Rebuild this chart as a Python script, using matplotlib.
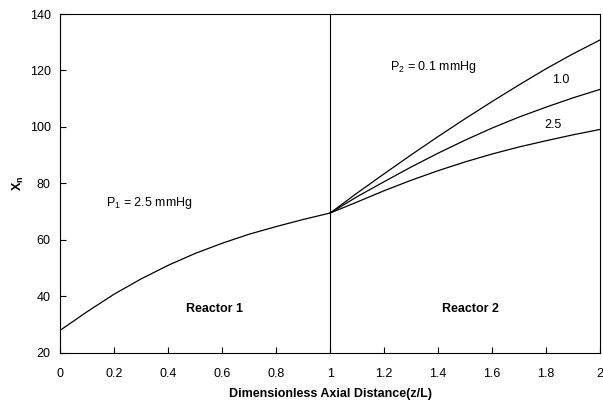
import matplotlib
matplotlib.use('Agg')
import matplotlib.pyplot as plt

plt.rcParams['font.family'] = ['Liberation Sans', 'DejaVu Sans']

# Reactor 1 (P1 = 2.5 mmHg)
z1 = [0.0, 0.1, 0.2, 0.3, 0.4, 0.5, 0.6, 0.7, 0.8, 0.9, 1.0]
x1 = [28, 34.6, 40.8, 46.2, 51.0, 55.2, 58.8, 62.0, 64.7, 67.2, 69.5]

# Reactor 2, three P2 values
z2 = [1.0, 1.1, 1.2, 1.3, 1.4, 1.5, 1.6, 1.7, 1.8, 1.9, 2.0]
x2_01 = [69.5, 76.6, 83.4, 90.1, 96.6, 102.9, 109.0, 114.9, 120.6, 125.9, 130.8]
x2_10 = [69.5, 75.3, 80.6, 85.8, 90.7, 95.3, 99.6, 103.5, 107.0, 110.3, 113.3]
x2_25 = [69.5, 73.4, 77.4, 81.1, 84.5, 87.6, 90.4, 92.9, 95.1, 97.2, 99.1]

xticks = [0, 0.2, 0.4, 0.6, 0.8, 1, 1.2, 1.4, 1.6, 1.8, 2]
xticklabels = ['0', '0.2', '0.4', '0.6', '0.8', '1', '1.2', '1.4', '1.6', '1.8', '2']
yticks = [20, 40, 60, 80, 100, 120, 140]

fig = plt.figure(figsize=(6.03, 4.01), dpi=100)
ax = fig.add_axes([0.1003, 0.1205, 0.8947, 0.8445])

lw = 0.9
ax.plot(z1, x1, color='black', lw=lw)
for ys in (x2_01, x2_10, x2_25):
    ax.plot(z2, ys, color='black', lw=lw)
ax.axvline(1.0, color='black', lw=0.8)

ax.set_xlim(0, 2)
ax.set_ylim(20, 140)
ax.set_xticks(xticks)
ax.set_xticklabels(xticklabels)
ax.set_yticks(yticks)
ax.tick_params(direction='in', length=4, width=0.8, labelsize=9)
ax.tick_params(axis='x', pad=11)
ax.tick_params(axis='y', pad=7)
for s in ax.spines.values():
    s.set_linewidth(0.8)

ax.set_xlabel('Dimensionless Axial Distance(z/L)', fontsize=9, fontweight='bold', labelpad=6)
ax.set_ylabel('X$_\\mathregular{n}$', fontsize=9, fontweight='bold', labelpad=3)

ax.text(0.17, 72, 'P$_\\mathregular{1}$ = 2.5 mmHg', fontsize=9)
ax.text(1.22, 120, 'P$_\\mathregular{2}$ = 0.1 mmHg', fontsize=9)
ax.text(1.855, 115.5, '1.0', fontsize=9, ha='center')
ax.text(1.825, 99.5, '2.5', fontsize=9, ha='center')
ax.text(0.57, 34.5, 'Reactor 1', fontsize=9, fontweight='bold', ha='center')
ax.text(1.52, 34.5, 'Reactor 2', fontsize=9, fontweight='bold', ha='center')

fig.savefig('out.png', dpi=100)
